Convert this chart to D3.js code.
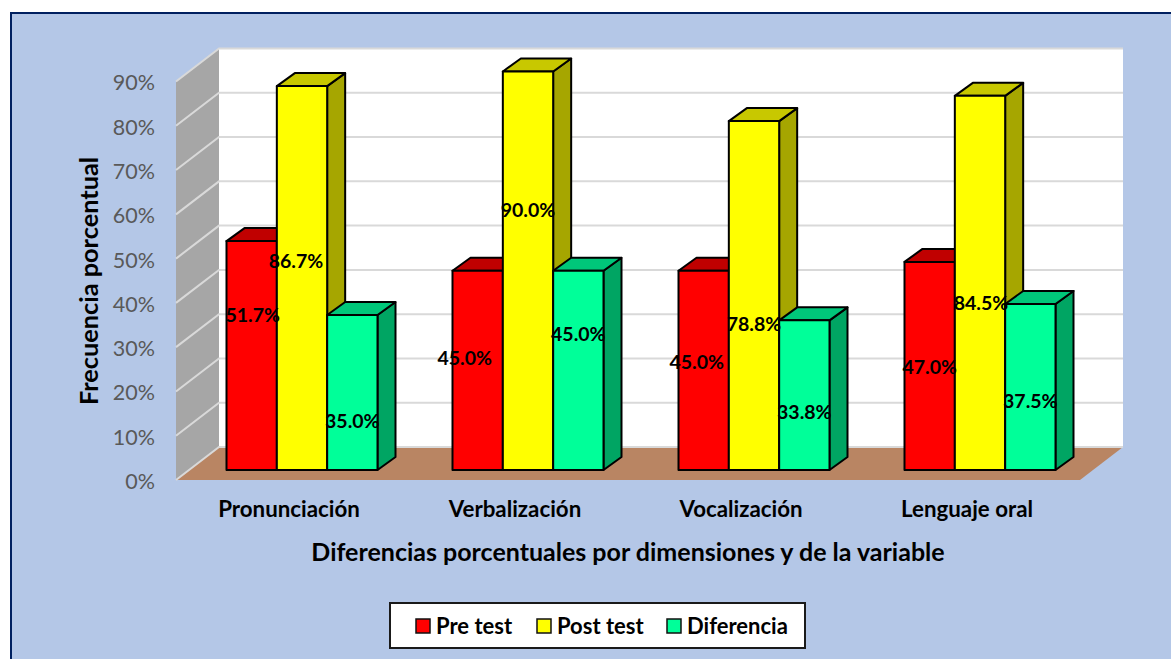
<!DOCTYPE html>
<html lang="es">
<head>
    <meta charset="UTF-8">
    <title>Diferencias porcentuales</title>
    <script src="https://d3js.org/d3.v7.min.js"></script>
    <style>
        html, body { margin: 0; padding: 0; background: #fff; overflow: hidden; }
        svg { display: block; }
        text { font-family: Lato, "Open Sans", sans-serif; }
        .bold { font-weight: 700; fill: #000; }
    </style>
</head>
<body>
    <div id="chart"></div>

    <script>
        // Data
        const categories = ["Pronunciación", "Verbalización", "Vocalización", "Lenguaje oral"];
        const seriesNames = ["Pre test", "Post test", "Diferencia"];
        const preTest = [51.7, 45.0, 45.0, 47.0];
        const postTest = [86.7, 90.0, 78.8, 84.5];
        const diferencia = [35.0, 45.0, 33.8, 37.5];
        const yTicks = [0, 10, 20, 30, 40, 50, 60, 70, 80, 90];

        const W = 1171, H = 659;
        const seriesValues = [preTest, postTest, diferencia];

        // front, side and top colours of every series
        const faces = [
            { front: "#ff0000", side: "#a00000", top: "#c00000" },
            { front: "#ffff00", side: "#a6a600", top: "#c8c800" },
            { front: "#00ff99", side: "#00a563", top: "#00c77a" }
        ];

        // Manually placed data labels in the original: shift from the bar centre and bar top
        const labelDx = [[1, -6, 0], [-13, 0, 0], [-7, 0, 0], [0, 1, 0]];
        const labelDy = [[74, 175, 106], [87, 139, 63], [91, 203, 92], [105, 207, 97]];

        // 3D box of the chart
        const wallDx = 43, wallDy = -33;    // depth of the whole floor
        const barShiftX = 13, barShiftY = -10;  // where bars stand on the floor
        const barDx = 18, barDy = -13;      // depth of one bar

        const x0 = d3.scaleBand().domain(categories).range([176, 1080]);
        const x1 = d3.scaleBand().domain(seriesNames).range([0, 151]);
        const y = d3.scaleLinear().domain([0, 90]).range([480, 81.5]);

        const svg = d3.select("#chart").append("svg")
            .attr("width", W)
            .attr("height", H);

        const poly = pts => "M" + pts.map(p => p.join(",")).join("L") + "Z";

        // Background with the dark frame on top and left
        svg.append("rect").attr("width", W).attr("height", H).attr("fill", "#fff");
        svg.append("rect")
            .attr("x", 11).attr("y", 13)
            .attr("width", W + 20).attr("height", H + 20)
            .attr("fill", "#b4c7e7")
            .attr("stroke", "#002060")
            .attr("stroke-width", 2);

        const left = x0.range()[0], right = x0.range()[1];
        const y0 = y(0), yTop = y(90);

        // Back wall
        svg.append("rect")
            .attr("x", left + wallDx).attr("y", yTop + wallDy)
            .attr("width", right - left).attr("height", y0 - yTop)
            .attr("fill", "#fff");

        // Side wall
        svg.append("path")
            .attr("d", poly([[left, y0], [left, yTop], [left + wallDx, yTop + wallDy], [left + wallDx, y0 + wallDy]]))
            .attr("fill", "#a6a6a6");

        // Floor
        svg.append("path")
            .attr("d", poly([[left, y0], [right, y0], [right + wallDx, y0 + wallDy], [left + wallDx, y0 + wallDy]]))
            .attr("fill", "#b98563");

        // Gridlines on both walls
        const grid = svg.append("g")
            .attr("fill", "none")
            .attr("stroke", "#d9d9d9")
            .attr("stroke-width", 2);
        yTicks.forEach(t => {
            grid.append("path").attr("d", d3.line()([
                [left, y(t)],
                [left + wallDx, y(t) + wallDy],
                [right + wallDx, y(t) + wallDy]
            ]));
        });

        // Bars, left to right so later faces cover earlier ones
        const bars = svg.append("g")
            .attr("stroke", "#000")
            .attr("stroke-width", 2)
            .attr("stroke-linejoin", "round");

        categories.forEach((cat, c) => {
            const groupX = x0(cat) + (x0.bandwidth() - x1.range()[1]) / 2 + barShiftX;
            seriesNames.forEach((name, s) => {
                const xa = groupX + x1(name);
                const xb = xa + x1.bandwidth();
                const yb = y(0) + barShiftY;
                const yt = y(seriesValues[s][c]) + barShiftY;
                const f = faces[s];
                bars.append("path")
                    .attr("d", poly([[xb, yb], [xb, yt], [xb + barDx, yt + barDy], [xb + barDx, yb + barDy]]))
                    .attr("fill", f.side);
                bars.append("path")
                    .attr("d", poly([[xa, yt], [xb, yt], [xb + barDx, yt + barDy], [xa + barDx, yt + barDy]]))
                    .attr("fill", f.top);
                bars.append("rect")
                    .attr("x", xa).attr("y", yt)
                    .attr("width", xb - xa).attr("height", yb - yt)
                    .attr("fill", f.front);
            });
        });

        // Data labels
        const labels = svg.append("g");
        categories.forEach((cat, c) => {
            const groupX = x0(cat) + (x0.bandwidth() - x1.range()[1]) / 2 + barShiftX;
            seriesNames.forEach((name, s) => {
                const v = seriesValues[s][c];
                labels.append("text")
                    .attr("class", "bold")
                    .attr("x", groupX + x1(name) + x1.bandwidth() / 2 + labelDx[c][s])
                    .attr("y", y(v) + barShiftY + labelDy[c][s])
                    .attr("dy", "0.35em")
                    .attr("text-anchor", "middle")
                    .attr("font-size", 19.5)
                    .text(v.toFixed(1) + "%");
            });
        });

        // Y axis
        const yAxis = svg.append("g")
            .attr("transform", "translate(155,1.5)")
            .call(d3.axisLeft(y).tickValues(yTicks).tickSize(0).tickPadding(0).tickFormat(d => d + "%"));
        yAxis.select(".domain").remove();
        yAxis.selectAll("text")
            .attr("font-size", 21.5)
            .attr("fill", "#595959")
            .style("font-family", "Lato, 'Open Sans', sans-serif");

        // X axis
        const xAxis = svg.append("g")
            .attr("transform", "translate(0,501)")
            .call(d3.axisBottom(x0).tickSize(0).tickPadding(0));
        xAxis.select(".domain").remove();
        xAxis.selectAll("text")
            .attr("class", "bold")
            .attr("font-size", 22.3)
            .style("font-family", "Lato, 'Open Sans', sans-serif");

        // Axis titles
        svg.append("text")
            .attr("class", "bold")
            .attr("x", 628).attr("y", 552)
            .attr("dy", "0.35em")
            .attr("text-anchor", "middle")
            .attr("font-size", 25)
            .text("Diferencias porcentuales por dimensiones y de la variable");

        svg.append("text")
            .attr("class", "bold")
            .attr("transform", "translate(89,281) rotate(-90)")
            .attr("dy", "0.35em")
            .attr("text-anchor", "middle")
            .attr("font-size", 25.3)
            .text("Frecuencia porcentual");

        // Legend
        const legend = svg.append("g");
        legend.append("rect")
            .attr("x", 390).attr("y", 603)
            .attr("width", 415).attr("height", 45)
            .attr("fill", "#fff")
            .attr("stroke", "#1a1a1a")
            .attr("stroke-width", 2);

        const legendX = d3.scaleOrdinal().domain(seriesNames).range([416, 537, 667]);
        seriesNames.forEach((name, s) => {
            legend.append("rect")
                .attr("x", legendX(name)).attr("y", 619)
                .attr("width", 14).attr("height", 14)
                .attr("fill", faces[s].front)
                .attr("stroke", "#111")
                .attr("stroke-width", 1.5);
            legend.append("text")
                .attr("class", "bold")
                .attr("x", legendX(name) + 20).attr("y", 626)
                .attr("dy", "0.35em")
                .attr("font-size", 22)
                .text(name);
        });
    </script>
</body>
</html>
